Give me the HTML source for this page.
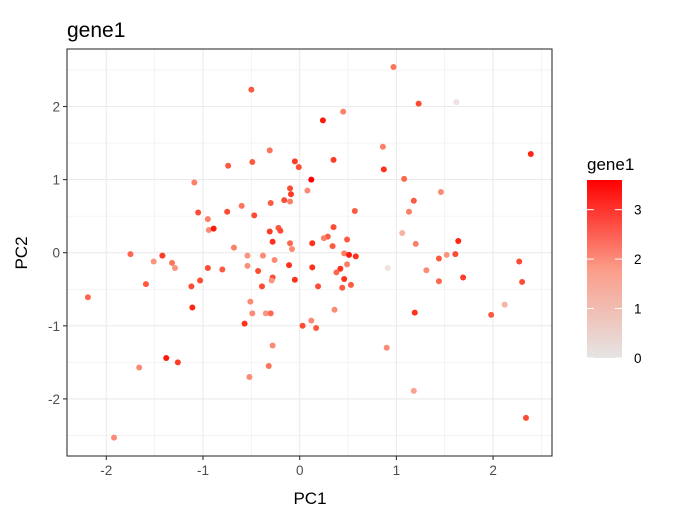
<!DOCTYPE html>
<html><head><meta charset="utf-8"><style>
body{margin:0;background:#fff;font-family:"Liberation Sans",sans-serif}
svg text{font-family:"Liberation Sans",sans-serif}
</style></head><body>
<svg id="chart" width="675" height="525" xmlns="http://www.w3.org/2000/svg">
<rect width="675" height="525" fill="#fff"/>
<text x="67" y="37" font-size="21" fill="#000">gene1</text>
<rect x="67" y="49" width="485" height="407" fill="#fff"/>
<g id="grid"></g>
<g id="points"></g>
<rect x="67" y="49" width="485" height="407" fill="none" stroke="#333" stroke-width="1.1"/>
<g id="axes"></g>
<text x="310" y="504" font-size="17" text-anchor="middle">PC1</text>
<text transform="translate(27,253) rotate(-90)" font-size="17" text-anchor="middle">PC2</text>
<g>
<text x="587" y="170" font-size="17">gene1</text>
<defs><linearGradient id="cg" x1="0" y1="1" x2="0" y2="0"><stop offset="0" stop-color="#e5e5e5"/><stop offset="0.5" stop-color="#fb9c88"/><stop offset="1" stop-color="#ff0000"/></linearGradient></defs>
<rect x="587" y="180" width="35" height="178" fill="url(#cg)"/>
<g id="legticks"></g>
</g>
</svg>
<script>
const xTicks=[-2,-1,0,1,2];
const yTicks=[-2,-1,0,1,2];
const legendTicks=[0,1,2,3];
const pc1=[-0.50,-0.31,-0.74,-0.49,-0.05,-0.01,-1.09,-0.10,-0.09,0.08,-0.16,-0.10,-0.30,-0.60,-1.05,-0.75,-0.47,-0.95,-0.94,-0.89,-0.31,-0.22,-0.20,-0.28,-0.10,-0.08,-0.68,-1.75,-1.42,-1.51,-1.32,-1.29,-0.54,-0.38,-0.26,-0.54,-0.95,-0.80,-0.43,-0.11,-0.28,-0.29,-0.05,-1.59,-1.12,-1.03,-0.39,-2.19,-1.11,-0.51,-0.49,-0.35,-0.30,-0.57,0.03,-0.28,-1.38,-1.26,-1.66,-0.32,-0.52,-1.92,0.97,1.23,1.62,0.45,0.24,0.86,0.35,2.39,0.87,0.12,1.08,1.46,1.18,1.13,0.57,0.35,1.06,1.20,1.64,0.13,0.29,0.25,0.34,0.49,0.46,0.51,0.58,0.49,0.42,0.38,0.13,0.91,0.46,0.19,0.44,0.53,1.44,1.52,1.61,1.31,1.44,1.69,2.27,2.30,0.36,0.12,0.17,1.19,1.98,2.12,0.90,1.18,2.34];
const pc2=[2.23,1.40,1.19,1.24,1.25,1.17,0.96,0.88,0.80,0.85,0.72,0.70,0.68,0.64,0.55,0.56,0.51,0.46,0.31,0.33,0.29,0.34,0.30,0.15,0.13,0.05,0.07,-0.02,-0.04,-0.12,-0.14,-0.21,-0.04,-0.04,-0.10,-0.18,-0.21,-0.23,-0.25,-0.17,-0.34,-0.38,-0.37,-0.43,-0.46,-0.38,-0.46,-0.61,-0.75,-0.67,-0.83,-0.83,-0.83,-0.97,-1.00,-1.27,-1.44,-1.50,-1.57,-1.55,-1.70,-2.53,2.54,2.04,2.06,1.93,1.81,1.45,1.27,1.35,1.14,1.00,1.01,0.83,0.71,0.56,0.57,0.35,0.27,0.12,0.16,0.13,0.22,0.20,0.09,0.18,-0.01,-0.03,-0.05,-0.16,-0.22,-0.27,-0.20,-0.21,-0.36,-0.46,-0.48,-0.44,-0.08,-0.03,-0.02,-0.24,-0.39,-0.34,-0.12,-0.40,-0.78,-0.93,-1.03,-0.82,-0.85,-0.71,-1.30,-1.89,-2.26];
const gene1=[2.8,2.4,2.8,2.8,3.2,3.0,2.2,3.0,3.2,2.0,3.0,2.2,2.8,2.4,3.0,3.0,3.0,2.2,2.0,3.5,3.2,2.8,3.0,3.3,2.6,2.0,2.2,2.6,3.2,1.8,2.4,1.8,1.8,2.0,2.0,1.9,3.0,2.8,3.0,3.3,3.0,1.8,3.3,2.8,3.0,3.0,3.0,2.6,3.4,2.0,2.0,1.8,2.6,3.3,3.0,2.0,3.5,3.2,2.0,2.4,2.0,2.0,2.4,3.0,0.1,2.2,3.5,2.2,3.2,3.4,3.3,3.6,2.6,2.0,2.8,2.2,2.8,3.0,1.2,2.2,3.4,3.3,2.8,2.2,2.8,2.8,2.2,3.5,3.3,2.2,3.3,2.6,3.3,0.1,3.3,3.0,2.8,2.8,2.8,1.8,3.0,2.0,2.6,3.2,3.0,3.0,2.0,2.0,2.8,3.3,2.8,1.2,2.0,1.5,3.0];

const NS='http://www.w3.org/2000/svg';
const X0=299.7,XS=96.7,Y0=252.7,YS=73.1;
const L=67,R=552,T=49,B=456;
const sx=v=>X0+v*XS, sy=v=>Y0-v*YS;
const cmin=0,cmax=3.6;
const cbTop=180,cbBot=358;
const cy=v=>cbBot-(v-cmin)/(cmax-cmin)*(cbBot-cbTop);
function mk(tag,attrs,parent){const e=document.createElementNS(NS,tag);for(const k in attrs)e.setAttribute(k,attrs[k]);parent.appendChild(e);return e;}
function col(v){
  let t=Math.max(0,Math.min(1,(v-cmin)/(cmax-cmin)));
  const r=Math.round(229+26*Math.pow(t,0.3));
  const g=Math.round(229*Math.pow(1-t,0.62));
  const b=Math.round(229*Math.pow(1-t,0.84));
  return `rgb(${r},${g},${b})`;
}
const grid=document.getElementById('grid');
for(let v=-2.5;v<=2.5;v+=0.5){
  const major=Math.abs(v-Math.round(v))<1e-6;
  const px=sx(v);
  if(px>L&&px<R){const l=mk('line',{x1:px,x2:px,y1:T,y2:B,stroke:'#ebebeb','stroke-width':major?1.1:0.55},grid);
    
    }
  const py=sy(v);
  if(py>T&&py<B){const l=mk('line',{x1:L,x2:R,y1:py,y2:py,stroke:'#ebebeb','stroke-width':major?1.1:0.55},grid);
    
    }
}
const axes=document.getElementById('axes');
xTicks.forEach(v=>{
  const t=mk('line',{x1:sx(v),x2:sx(v),y1:B,y2:B+4,stroke:'#333','stroke-width':1.1},axes);
  
  
  const s=mk('text',{x:sx(v),y:B+19,'font-size':13.5,'text-anchor':'middle',fill:'#4d4d4d'},axes);
  s.textContent=v<0?'-'+Math.abs(v):String(v);
  
  
});
yTicks.forEach(v=>{
  const t=mk('line',{x1:L-4,x2:L,y1:sy(v),y2:sy(v),stroke:'#333','stroke-width':1.1},axes);
  
  
  const s=mk('text',{x:L-7,y:sy(v)+5,'font-size':13.5,'text-anchor':'end',fill:'#4d4d4d'},axes);
  s.textContent=v<0?'-'+Math.abs(v):String(v);
  
  
});
const pts=document.getElementById('points');
pc1.forEach((x,i)=>{
  const c=mk('circle',{cx:sx(x),cy:sy(pc2[i]),r:3,fill:col(gene1[i])},pts);
  
  
});
const lt=document.getElementById('legticks');
legendTicks.forEach(v=>{
  const y=cy(v);
  const a=mk('line',{x1:587,x2:594,y1:y,y2:y,stroke:'#fff','stroke-width':1},lt);
  
  
  const b=mk('line',{x1:615,x2:622,y1:y,y2:y,stroke:'#fff','stroke-width':1},lt);
  
  
  const s=mk('text',{x:634,y:y+5,'font-size':13.5,fill:'#000'},lt);
  s.textContent=String(v);
  
  
});
</script>
</body></html>
